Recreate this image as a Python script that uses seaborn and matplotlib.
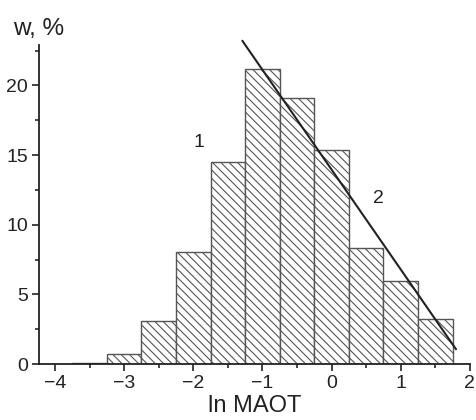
import matplotlib
matplotlib.use("Agg")
import matplotlib.pyplot as plt
import seaborn as sns
import numpy as np
from matplotlib.ticker import MultipleLocator

# data
bin_edges = [-3.75, -3.25, -2.75, -2.25, -1.75, -1.25, -0.75, -0.25, 0.25, 0.75, 1.25, 1.75]
bin_centers = [-3.5, -3.0, -2.5, -2.0, -1.5, -1.0, -0.5, 0.0, 0.5, 1.0, 1.5]
w_percent = [0.1, 0.72, 3.12, 8.03, 14.5, 21.2, 19.07, 15.38, 8.36, 5.94, 3.26]
line_x = [-1.29, 1.80]
line_y = [23.2, 1.06]

sns.set_style("ticks")
plt.rcParams['font.family'] = ['Liberation Sans', 'DejaVu Sans']
plt.rcParams['hatch.color'] = '#666666'
plt.rcParams['hatch.linewidth'] = 0.8

fig = plt.figure(figsize=(4.77, 4.2), dpi=100)
ax = fig.add_axes([0.0818, 0.1333, 0.985 - 0.0818, 0.893 - 0.1333])

sns.histplot(x=bin_centers, weights=w_percent, bins=bin_edges, ax=ax,
             color='white', edgecolor='#555555', linewidth=1.0, alpha=1)
for p in ax.patches:
    p.set_hatch('\\\\\\\\')
    p.set_facecolor('white')

sns.lineplot(x=line_x, y=line_y, ax=ax, color='#222222', linewidth=1.5)
for ln in ax.lines:
    ln.set_clip_on(False)

ax.set_xlim(-4.23, 2.0)
ax.set_ylim(0, 22.9)
ax.xaxis.set_major_locator(MultipleLocator(1))
ax.xaxis.set_minor_locator(MultipleLocator(0.5))
ax.yaxis.set_major_locator(MultipleLocator(5))
ax.yaxis.set_minor_locator(MultipleLocator(2.5))
ax.tick_params(which='major', direction='out', length=5, width=1.2, labelsize=14, colors='#222222', pad=3)
ax.tick_params(which='minor', direction='out', length=3, width=1.2)
for s in ['top', 'right']:
    ax.spines[s].set_visible(False)
for s in ['left', 'bottom']:
    ax.spines[s].set_linewidth(1.3)
    ax.spines[s].set_color('#222222')

ax.set_xlabel('ln MAOT', fontsize=17, color='#222222', labelpad=2)
ax.set_ylabel('')
fig.text(0.027, 0.93, 'w, %', fontsize=17.5, color='#222222', ha='left', va='center')
ax.text(-1.92, 15.9, '1', fontsize=14, color='#222222', ha='center', va='center')
ax.text(0.68, 11.9, '2', fontsize=14, color='#222222', ha='center', va='center')

fig.savefig('out.png', dpi=100)
